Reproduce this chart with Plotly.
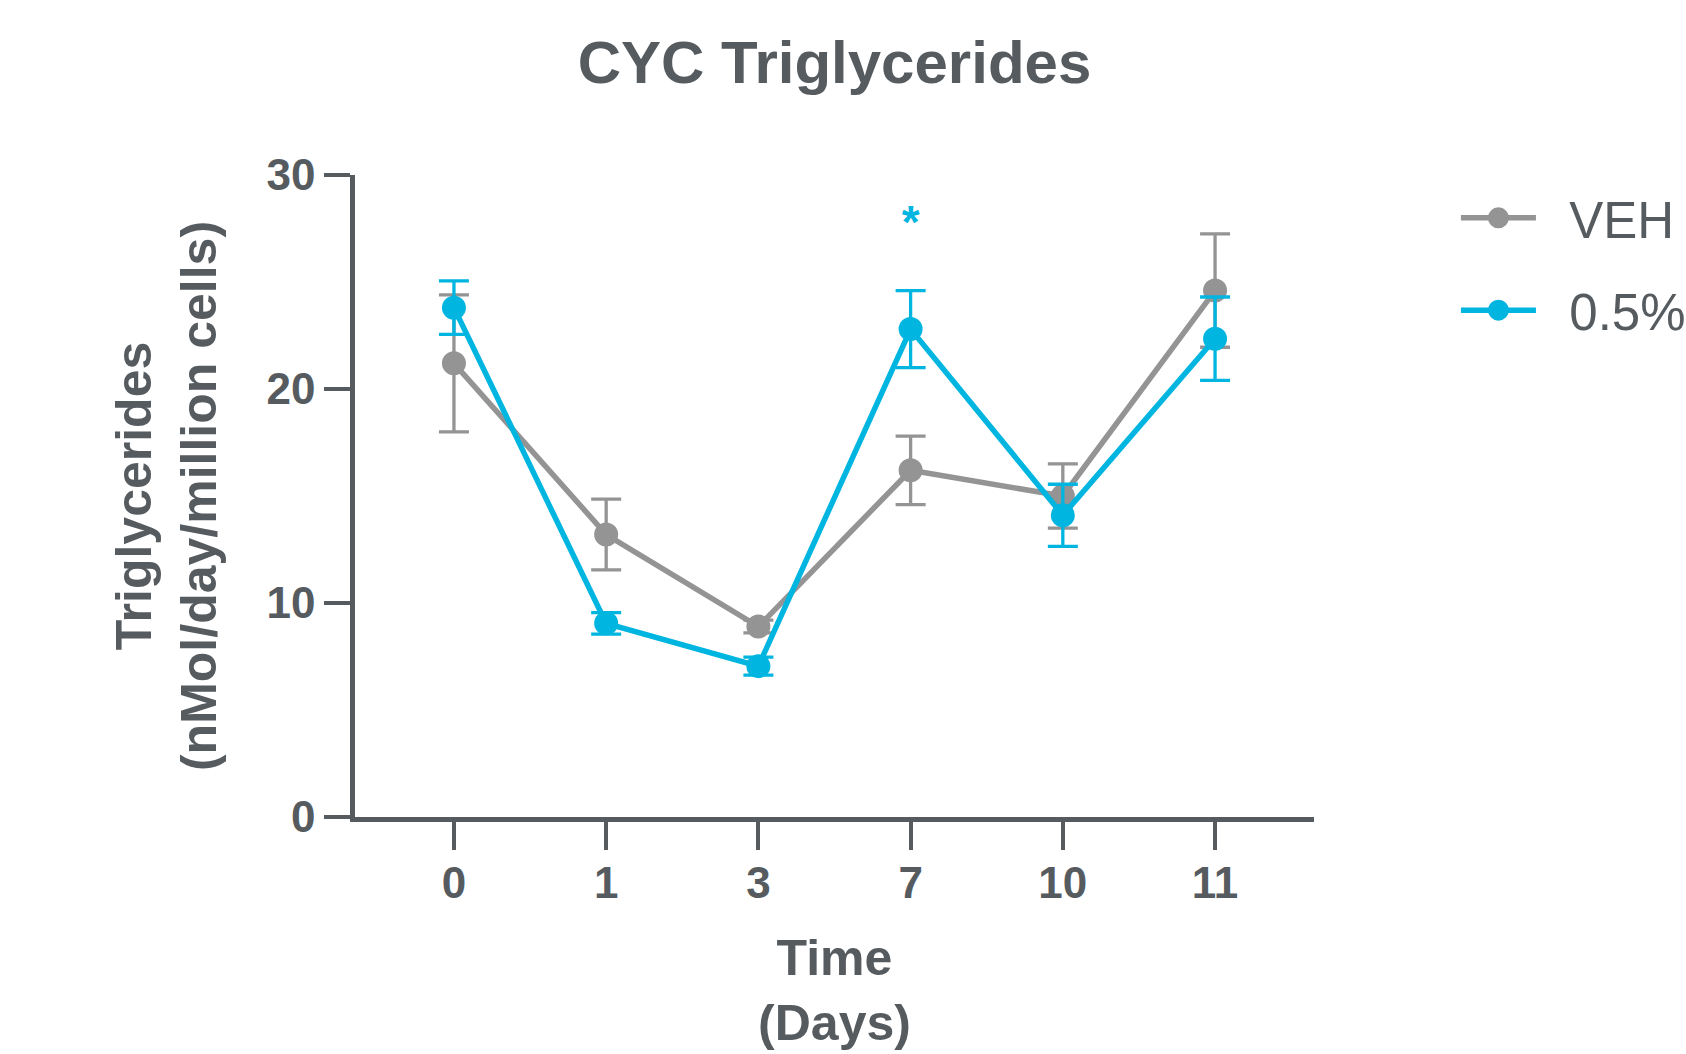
import plotly.graph_objects as go

days = ['0', '1', '3', '7', '10', '11']
veh_mean = [21.2, 13.2, 8.9, 16.2, 15.0, 24.6]
veh_err = [3.2, 1.65, 0.3, 1.6, 1.5, 2.65]
pct_mean = [23.8, 9.05, 7.05, 22.8, 14.1, 22.35]
pct_err = [1.25, 0.5, 0.42, 1.8, 1.45, 1.95]
sig_days = ['7']
sig_y = [27.6]
y_ticks = [0, 10, 20, 30]

GREY = '#949494'
BLUE = '#00B5E0'
TEXT = '#565B60'
FONT = 'Arial, Liberation Sans, sans-serif'
NB = '\u00a0\u00a0'

fig = go.Figure()
fig.add_trace(go.Scatter(
    x=days, y=veh_mean, name=NB + 'VEH', mode='lines+markers', legendgroup='a',
    line=dict(color=GREY, width=5.5),
    marker=dict(color=GREY, size=19, line=dict(color=GREY, width=5)),
    error_y=dict(type='data', array=veh_err, color=GREY, thickness=3.3, width=15),
))
fig.add_trace(go.Scatter(
    x=days, y=pct_mean, name=NB + '0.5%', mode='lines+markers', legendgroup='b',
    line=dict(color=BLUE, width=5.5),
    marker=dict(color=BLUE, size=19, line=dict(color=BLUE, width=5)),
    error_y=dict(type='data', array=pct_err, color=BLUE, thickness=3.3, width=15),
))
fig.add_trace(go.Scatter(
    x=sig_days, y=sig_y, mode='text', text=['*'] * len(sig_days),
    textposition='middle center', showlegend=False, hoverinfo='skip',
    textfont=dict(family=FONT, size=46, color=BLUE, weight='bold'),
    cliponaxis=False,
))

fig.update_layout(
    width=1686, height=1054,
    paper_bgcolor='white', plot_bgcolor='white',
    margin=dict(l=355, r=372, t=175, b=237, autoexpand=False),
    font=dict(family=FONT, color=TEXT),
    title=dict(text='CYC Triglycerides', x=0.5, xref='paper', xanchor='center',
               y=1 - 62 / 1054, yref='container', yanchor='middle',
               font=dict(size=60, weight='bold', color=TEXT)),
    showlegend=True,
    legend=dict(x=1.148, xanchor='left', y=0.995, yanchor='top',
                font=dict(size=51, color=TEXT), itemwidth=75,
                tracegroupgap=23, traceorder='grouped', bgcolor='rgba(0,0,0,0)'),
    xaxis=dict(
        type='category', range=[-0.65, 5.65], showgrid=False, zeroline=False,
        showline=True, linecolor=TEXT, linewidth=4.5,
        ticks='outside', ticklen=28, tickwidth=4, tickcolor=TEXT,
        ticklabelstandoff=-5,
        tickfont=dict(size=44, weight='bold', color=TEXT),
        title=dict(text='Time<br>(Days)', standoff=36,
                   font=dict(size=50, weight='bold', color=TEXT)),
    ),
    yaxis=dict(
        range=[0, 30], tickvals=y_ticks, showgrid=False, zeroline=False,
        showline=True, linecolor=TEXT, linewidth=4.5,
        ticks='outside', ticklen=26, tickwidth=4, tickcolor=TEXT,
        tickfont=dict(size=44, weight='bold', color=TEXT),
        title=dict(text='Triglycerides<br>(nMol/day/million cells)', standoff=35,
                   font=dict(size=50, weight='bold', color=TEXT)),
    ),
)

fig.write_html('out.html', config={'displayModeBar': False},
               post_script="document.body.style.margin='0px';")
